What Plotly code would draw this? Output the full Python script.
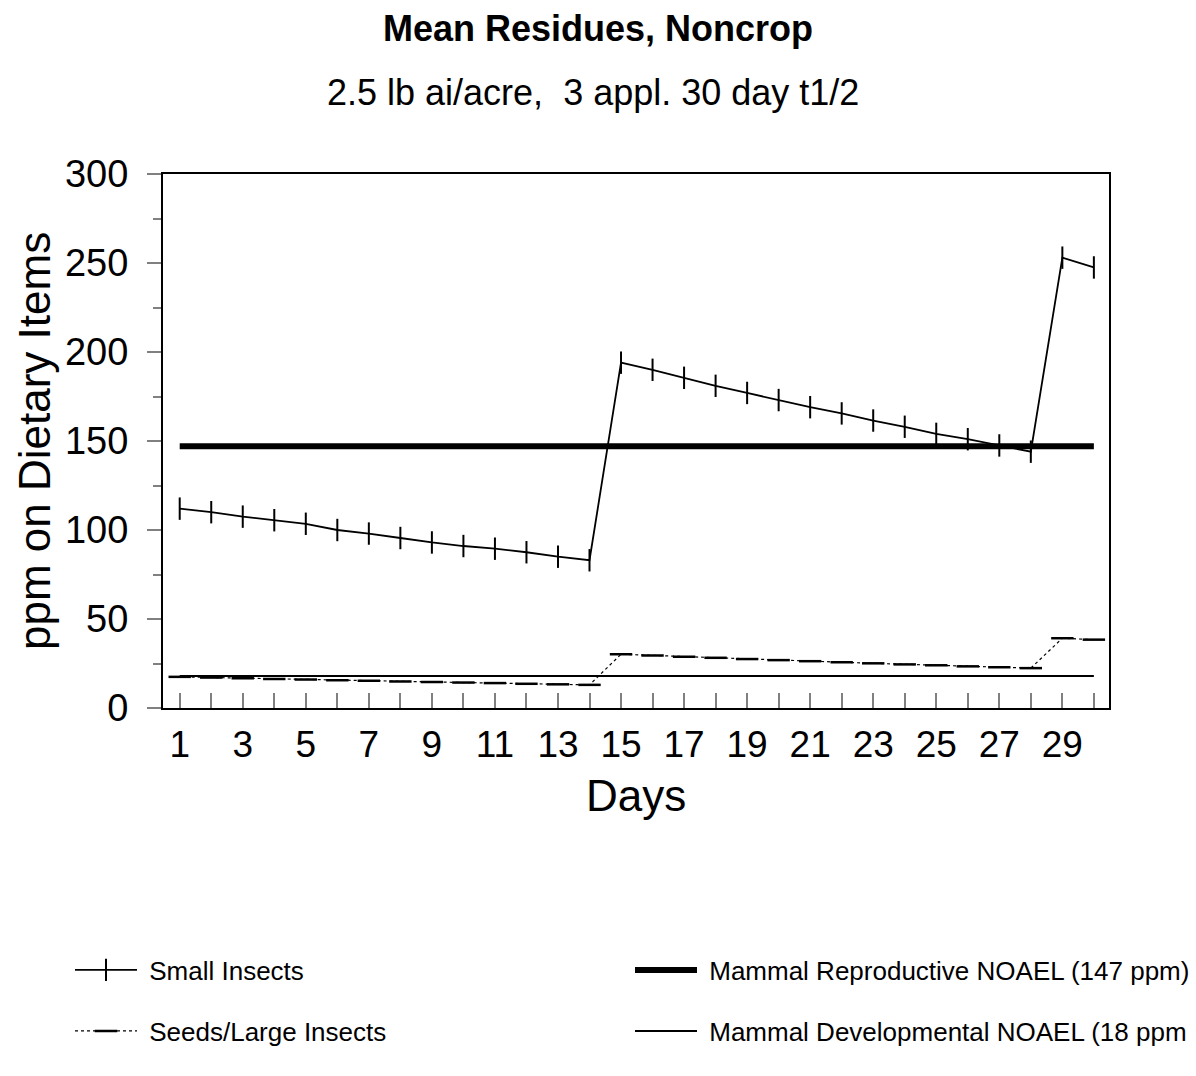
import plotly.graph_objects as go

days = list(range(1, 31))
small_insects = [112, 110, 107.5, 105.5, 103.5, 100, 98, 95.5, 93, 91, 89.5, 87.5, 85, 83,
                 194, 190, 185.5, 181, 177, 173, 169, 165.5, 161.5, 158, 154, 151, 147.5, 144,
                 253, 247.5]
seeds_large = [17.5, 17.1, 16.7, 16.3, 16.0, 15.6, 15.3, 14.9, 14.6, 14.3, 14.0, 13.6, 13.3, 13.0,
               30.2, 29.5, 28.8, 28.2, 27.5, 26.9, 26.3, 25.7, 25.1, 24.5, 24.0, 23.4, 22.9, 22.4,
               39.2, 38.4]
repro_noael = 147
dev_noael = 18
x_tick_labels = [str(d) for d in range(1, 30, 2)]

FONT = "Liberation Sans, Arial, sans-serif"

fig = go.Figure()
fig.add_trace(go.Scatter(
    x=days, y=small_insects, mode="lines+markers", name=" Small Insects",
    line=dict(color="black", width=1.8),
    marker=dict(symbol="line-ns", size=16, line=dict(color="black", width=2)),
    legend="legend"))
fig.add_trace(go.Scatter(
    x=days, y=[repro_noael] * len(days), mode="lines",
    name=" Mammal Reproductive NOAEL (147 ppm)",
    line=dict(color="black", width=6), legend="legend2"))
fig.add_trace(go.Scatter(
    x=days, y=seeds_large, mode="lines+markers", name=" Seeds/Large Insects",
    line=dict(color="black", width=1.2, dash="dot"),
    marker=dict(symbol="line-ew", size=16, line=dict(color="black", width=2.5)),
    legend="legend3"))
fig.add_trace(go.Scatter(
    x=days, y=[dev_noael] * len(days), mode="lines",
    name=" Mammal Developmental NOAEL (18 ppm",
    line=dict(color="black", width=2), legend="legend4"))

row1_y = (708 - 970) / 534
row2_y = (708 - 1031) / 534
col1_x = (70 - 163) / 946
col2_x = (630 - 163) / 946


def leg(x, y):
    return dict(orientation="h", x=x, y=y, xanchor="left", yanchor="middle",
                itemwidth=62, font=dict(size=26, family=FONT, color="black"),
                bgcolor="rgba(0,0,0,0)")


fig.update_layout(
    width=1196, height=1076,
    margin=dict(l=163, r=87, t=174, b=368, autoexpand=False),
    paper_bgcolor="white", plot_bgcolor="white",
    font=dict(family=FONT, color="black"),
    title=dict(text="<b>Mean Residues, Noncrop</b>", x=0.5, xref="container",
               y=1 - 28 / 1076, yref="container", yanchor="middle", xanchor="center",
               font=dict(size=36, family=FONT, color="black")),
    showlegend=True,
    legend=leg(col1_x, row1_y),
    legend2=leg(col2_x, row1_y),
    legend3=leg(col1_x, row2_y),
    legend4=leg(col2_x, row2_y),
)

fig.update_xaxes(
    range=[0.47, 30.48], tickmode="array", tickvals=list(range(1, 30, 2)),
    ticktext=x_tick_labels, ticks="inside", ticklen=15, tickwidth=1.5, tickcolor="#808080",
    minor=dict(dtick=1, tick0=0, ticks="inside", ticklen=15, tickwidth=1.5, tickcolor="#808080"),
    showgrid=False, zeroline=False, showline=True, linecolor="black", linewidth=2,
    mirror=True, ticklabelstandoff=3, tickfont=dict(size=37, family=FONT, color="black"))
fig.update_yaxes(
    range=[0, 300], dtick=50, tick0=0, ticks="outside", ticklen=14, tickwidth=1.5,
    tickcolor="#808080",
    minor=dict(dtick=25, ticks="outside", ticklen=8, tickwidth=1.5, tickcolor="#808080"),
    showgrid=False, zeroline=False, showline=True, linecolor="black", linewidth=2,
    mirror=True, ticklabelstandoff=11, tickfont=dict(size=38, family=FONT, color="black"))

fig.add_annotation(text="2.5 lb ai/acre,  3 appl. 30 day t1/2", xref="paper", yref="paper",
                   x=0.455, y=(708 - 93) / 534, showarrow=False, xanchor="center",
                   yanchor="middle", font=dict(size=36, family=FONT, color="black"))
fig.add_annotation(text="Days", xref="paper", yref="paper", x=0.5, y=(708 - 795) / 534,
                   showarrow=False, xanchor="center", yanchor="middle",
                   font=dict(size=44, family=FONT, color="black"))
fig.add_annotation(text="ppm on Dietary Items", xref="paper", yref="paper",
                   x=(34 - 163) / 946, y=0.5, textangle=-90, showarrow=False,
                   xanchor="center", yanchor="middle",
                   font=dict(size=44, family=FONT, color="black"))

fig.write_html("out.html")
